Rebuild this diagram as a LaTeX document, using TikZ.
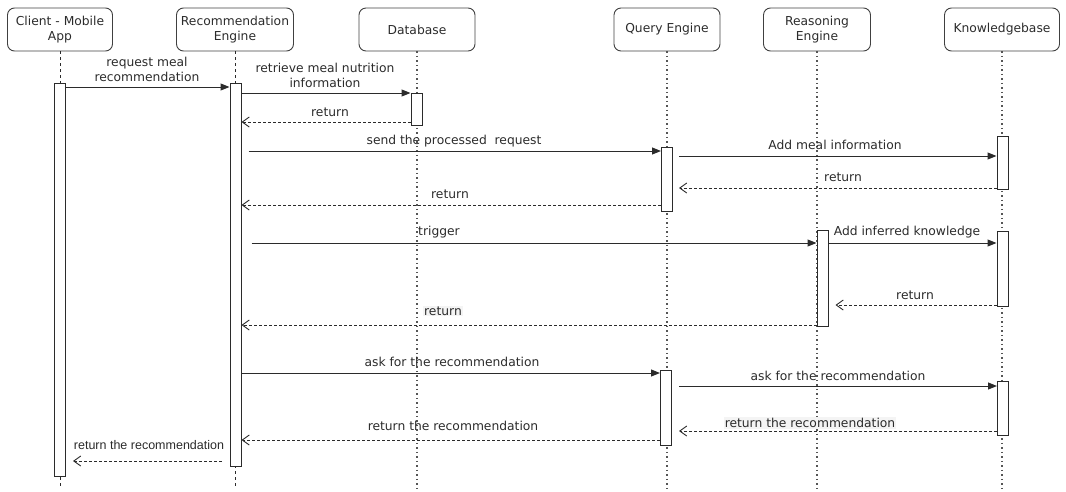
\documentclass[tikz,border=0pt]{standalone}
\usepackage{fontspec}
\setmainfont{DejaVu Sans}
\newfontfamily\arialfont{Liberation Sans}
\usetikzlibrary{arrows.meta}
\definecolor{ink}{HTML}{2B2B2B}
\definecolor{lblbg}{HTML}{F4F4F4}
\begin{document}
\begin{tikzpicture}[x=1pt,y=-1pt,
  head/.style={draw=ink!90, line width=0.9pt, rounded corners=7pt, minimum height=43pt, inner sep=1pt, align=center, text=ink, font=\fontsize{12.3}{15}\selectfont},
  lifedash/.style={draw=ink, line width=0.9pt, dash pattern=on 3pt off 3pt},
  lifedot/.style={draw=ink!80, line width=1.2pt, dash pattern=on 1.5pt off 3pt},
  act/.style={draw=ink, fill=white, line width=1pt, minimum width=11pt, inner sep=0pt, anchor=north},
  lbl/.style={text=ink, align=center, inner sep=1pt, font=\fontsize{12.3}{15}\selectfont},
  msg/.style={draw=ink, line width=1pt, -{Triangle[length=9pt,width=7pt]}},
  rep/.style={draw=ink, line width=0.9pt, dash pattern=on 3pt off 2pt, -{Straight Barb[length=7pt,width=10pt]}}
]
\useasboundingbox (0,0) rectangle (1066,491);

% headers
\node[head, minimum width=105pt] (client) at (60,29.5) {Client - Mobile\\App};
\node[head, minimum width=117pt] (rec) at (235,29.5) {Recommendation\\Engine};
\node[head, minimum width=116pt] (db) at (417,29.5) {Database};
\node[head, minimum width=106pt] (qe) at (667,29.5) {Query Engine};
\node[head, minimum width=107pt] (re) at (817,29.5) {Reasoning\\Engine};
\node[head, minimum width=115pt] (kb) at (1002,29.5) {Knowledgebase};

% lifelines
\coordinate (bottom) at (0,488);
\draw[lifedash] (client.south) -- (client.south |- bottom);
\draw[lifedash] (rec.south) -- (rec.south |- bottom);
\draw[lifedot] (db.south) -- (db.south |- bottom);
\draw[lifedot] (qe.south) -- (qe.south |- bottom);
\draw[lifedot] (re.south) -- (re.south |- bottom);
\draw[lifedot] (kb.south) -- (kb.south |- bottom);

% activations
\node[act, minimum height=393pt] (c1) at (60,83) {};
\node[act, minimum height=383pt] (r1) at (235.5,83) {};
\node[act, minimum height=32pt] (d1) at (416.5,93) {};
\node[act, minimum height=64pt] (q1) at (667,147) {};
\node[act, minimum height=53pt] (k1) at (1002.5,136) {};
\node[act, minimum height=96pt] (e1) at (822.5,230) {};
\node[act, minimum height=75pt] (k2) at (1002.5,231) {};
\node[act, minimum height=75pt] (q2) at (666,370) {};
\node[act, minimum height=54pt] (k3) at (1003,381) {};

% message levels
\coordinate (y1) at (0,87);
\coordinate (y2) at (0,93);
\coordinate (y3) at (0,122);
\coordinate (y4) at (0,151);
\coordinate (y5) at (0,156);
\coordinate (y6) at (0,188);
\coordinate (y7) at (0,205);
\coordinate (y8) at (0,243);
\coordinate (y9) at (0,305);
\coordinate (y10) at (0,325);
\coordinate (y11) at (0,373);
\coordinate (y12) at (0,386);
\coordinate (y13) at (0,431);
\coordinate (y14) at (0,440);
\coordinate (y15) at (0,461);

% messages
\draw[msg] (c1.east |- y1) -- (r1.west |- y1);
\draw[msg] (r1.east |- y2) -- (d1.west |- y2);
\draw[rep] (d1.west |- y3) -- (r1.east |- y3);
\draw[msg] ([xshift=7pt]r1.east |- y4) -- (q1.west |- y4);
\draw[msg] ([xshift=6pt]q1.east |- y5) -- (k1.west |- y5);
\draw[rep] (k1.west |- y6) -- ([xshift=6pt]q1.east |- y6);
\draw[rep] (q1.west |- y7) -- (r1.east |- y7);
\draw[msg] ([xshift=10pt]r1.east |- y8) -- (e1.west |- y8);
\draw[msg] (e1.east |- y8) -- (k2.west |- y8);
\draw[rep] (k2.west |- y9) -- ([xshift=7pt]e1.east |- y9);
\draw[rep] (e1.west |- y10) -- (r1.east |- y10);
\draw[msg] (r1.east |- y11) -- (q2.west |- y11);
\draw[msg] ([xshift=7pt]q2.east |- y12) -- (k3.west |- y12);
\draw[rep] (k3.west |- y13) -- ([xshift=7pt]q2.east |- y13);
\draw[rep] (q2.west |- y14) -- (r1.east |- y14);
\draw[rep] ([xshift=-8pt]r1.west |- y15) -- ([xshift=7pt]c1.east |- y15);

% labels
\node[lbl] (l1) at (147,69.5) {request meal\\recommendation};
\node[lbl] (l2) at (325,75) {retrieve meal nutrition\\information};
\node[lbl] (l3) at (330,112) {return};
\node[lbl] (l4) at (454,141) {send the processed\ \ request};
\node[lbl] (l5) at (835,145) {Add meal information};
\node[lbl] (l6) at (843,177) {return};
\node[lbl] (l7) at (450,194) {return};
\node[lbl] (l8) at (439,232) {trigger};
\node[lbl] (l9) at (907,232) {Add inferred knowledge};
\node[lbl] (l10) at (915,295) {return};
\node[lbl, fill=lblbg] (l11) at (443,311) {return};
\node[lbl] (l12) at (452,362) {ask for the recommendation};
\node[lbl] (l13) at (838,376) {ask for the recommendation};
\node[lbl, fill=lblbg] (l14) at (810,423) {return the recommendation};
\node[lbl] (l15) at (453,426) {return the recommendation};
\node[lbl, font=\arialfont\fontsize{12.5}{15}\selectfont] (l16) at (149,445) {return the recommendation};
\end{tikzpicture}
\end{document}
